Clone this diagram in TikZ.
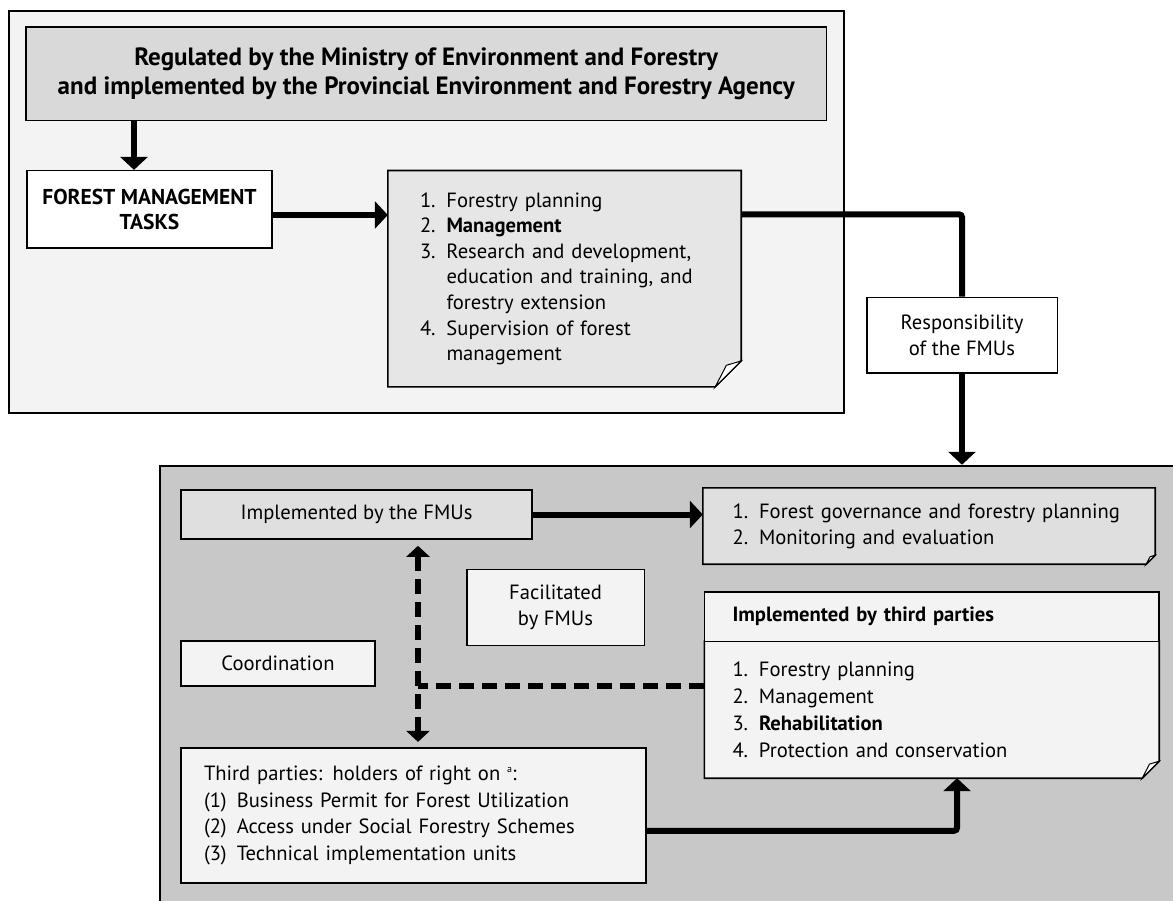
\documentclass[tikz,border=0pt]{standalone}
\usepackage{fontspec}
\setmainfont{PT Sans}
\usepackage{tikz}
\usetikzlibrary{arrows.meta,positioning,calc}
\definecolor{fpale}{HTML}{F3F3F3}
\definecolor{fhead}{HTML}{D9D9D9}
\definecolor{flist}{HTML}{E6E6E6}
\definecolor{fimpl}{HTML}{DFDFDF}
\definecolor{fframe}{HTML}{C8C8C8}
\pgfdeclarelayer{paper}
\pgfsetlayers{paper,main}
\tikzset{
  frame/.style  = {draw, line width=2pt, rectangle, inner sep=0pt},
  box/.style    = {draw, line width=1.6pt, rectangle, inner sep=0pt, align=center},
  listbox/.style= {rectangle, inner ysep=0pt, align=left},
  flow/.style   = {-{Triangle[width=27pt,length=13pt]}, line width=6pt},
  link/.style   = {line width=6pt, dash pattern=on 15pt off 8pt},
  linktip/.style= {{Triangle[width=23pt,length=11pt]}-{Triangle[width=23pt,length=11pt]}},
}
% numbered lines with a hanging indent
\newcommand{\lnum}[2][26.5pt]{\makebox[#1][l]{#2}}
\newcommand{\lind}[1][26.5pt]{\hspace*{#1}}
\newcommand{\tinysup}[1]{\raisebox{8pt}{\fontsize{10}{10}\selectfont #1}}
% folded-corner outline round a named node: node, fold size, fill
\newcommand{\dogear}[3]{%
  \filldraw[fill=#3, line width=1.6pt] (#1.north west) -- (#1.north east)
    -- ([yshift=#2]#1.south east) -- ([xshift=-#2]#1.south east) -- (#1.south west) -- cycle;
  \filldraw[fill=white, line width=1pt] ([xshift=-#2]#1.south east)
    -- ([xshift=-0.57*#2,yshift=0.83*#2]#1.south east) -- ([yshift=#2]#1.south east) -- cycle;}

\begin{document}
\begin{tikzpicture}[x=1pt,y=-1pt,font=\fontsize{20.6}{26}\selectfont]
\useasboundingbox (0,0) rectangle (1173,901);
% the two frames
\begin{pgfonlayer}{paper}
\fill[white] (0,0) rectangle (1173,901);
\node[frame, fill=fpale, minimum width=835.8pt, minimum height=402pt] (topframe) at (426.4,211.7) {};
\node[frame, fill=fframe, minimum width=1024.6pt, minimum height=449.3pt] (fmuframe) at (672.7,690.4) {};
\end{pgfonlayer}
% upper part
\node[box, fill=fhead, minimum width=800.5pt, minimum height=93.4pt,
      font=\fontsize{25}{29}\selectfont\bfseries] (regbox) at (426.25,74)
  {Regulated by the Ministry of Environment and Forestry\\
   and implemented by the Provincial Environment and Forestry Agency};
\node[box, fill=white, minimum width=245pt, minimum height=77.6pt, font=\fontsize{21.5}{25.7}\selectfont\bfseries]
  (taskbox) at (149.5,209.5) {FOREST MANAGEMENT\\TASKS};
\node[listbox, inner xsep=32pt, text width=289pt, minimum height=216pt, font=\fontsize{20.6}{25.6}\selectfont]
  (taskslist) at (564.5,278.7)
  {\lnum{1.}Forestry planning\\
   \lnum{2.}\textbf{Management}\\
   \lnum{3.}Research and development,\\
   \lind education and training, and\\
   \lind forestry extension\\
   \lnum{4.}Supervision of forest\\
   \lind management};
\node[box, fill=white, minimum width=190.6pt, minimum height=75.7pt] (respbox) at (962,335.2)
  {Responsibility\\of the FMUs};
% lower part
\node[box, fill=fimpl, minimum width=351pt, minimum height=49pt] (implfmu) at (356.5,514.5)
  {Implemented by the FMUs};
\node[listbox, inner xsep=29.6pt, text width=392.8pt, minimum height=76pt] (govbox) at (929,526)
  {\lnum{1.}Forest governance and forestry planning\\
   \lnum{2.}Monitoring and evaluation};
\node[box, fill=fpale, minimum width=177.6pt, minimum height=76pt] (facilbox) at (555.5,607.4)
  {Facilitated\\by FMUs};
\node[box, fill=fpale, minimum width=194pt, minimum height=45pt] (coordbox) at (278,663.5)
  {Coordination};
\node[box, listbox, fill=fpale, inner xsep=28pt, text width=398.5pt, minimum height=49.3pt]
  (thirdhead) at (931.75,616.65) {\textbf{Implemented by third parties}};
\node[listbox, inner xsep=28pt, text width=398.5pt, minimum height=136.7pt, font=\fontsize{20.6}{27}\selectfont]
  (thirdbody) at (931.75,709.65)
  {\lnum{1.}Forestry planning\\
   \lnum{2.}Management\\
   \lnum{3.}\textbf{Rehabilitation}\\
   \lnum{4.}Protection and conservation};
\node[box, listbox, fill=fpale, inner xsep=23pt, text width=419pt, minimum height=135.3pt, font=\fontsize{20.6}{26.7}\selectfont]
  (holders) at (413.5,815.35)
  {Third parties: holders of right on \tinysup{a}:\\
   \lnum[32.8pt]{(1)}Business Permit for Forest Utilization\\
   \lnum[32.8pt]{(2)}Access under Social Forestry Schemes\\
   \lnum[32.8pt]{(3)}Technical implementation units};
% folded corners
\begin{pgfonlayer}{paper}
\dogear{taskslist}{26pt}{flist}
\dogear{govbox}{9pt}{fimpl}
\dogear{thirdbody}{17pt}{fpale}
\end{pgfonlayer}
% connectors
\coordinate (hdrfoot) at ([xshift=-15.5pt]taskbox.north);
\draw[flow] (hdrfoot |- regbox.south) -- (hdrfoot);
\draw[flow] ([yshift=-5.5pt]taskbox.east) -- ([yshift=-5.5pt]taskbox.east -| taskslist.west);
\draw[line width=6pt, rounded corners=3pt] ([yshift=64.4pt]taskslist.east) -| (respbox.north);
\draw[flow] (respbox.south) -- (respbox.south |- fmuframe.north);
\draw[flow] (implfmu.east) -- (implfmu.east -| govbox.west);
\coordinate (linkx) at ([xshift=4.5pt]holders.north);
\draw[link, linktip, shorten <=6pt, shorten >=5pt] (linkx |- implfmu.south) -- (linkx);
\draw[link] ([yshift=24pt]thirdbody.west) -- ([yshift=24pt]thirdbody.west -| linkx);
\draw[flow, rounded corners=3pt] ([yshift=-15.4pt]holders.east) -| ([xshift=25.3pt]thirdbody.south);
\end{tikzpicture}
\end{document}
